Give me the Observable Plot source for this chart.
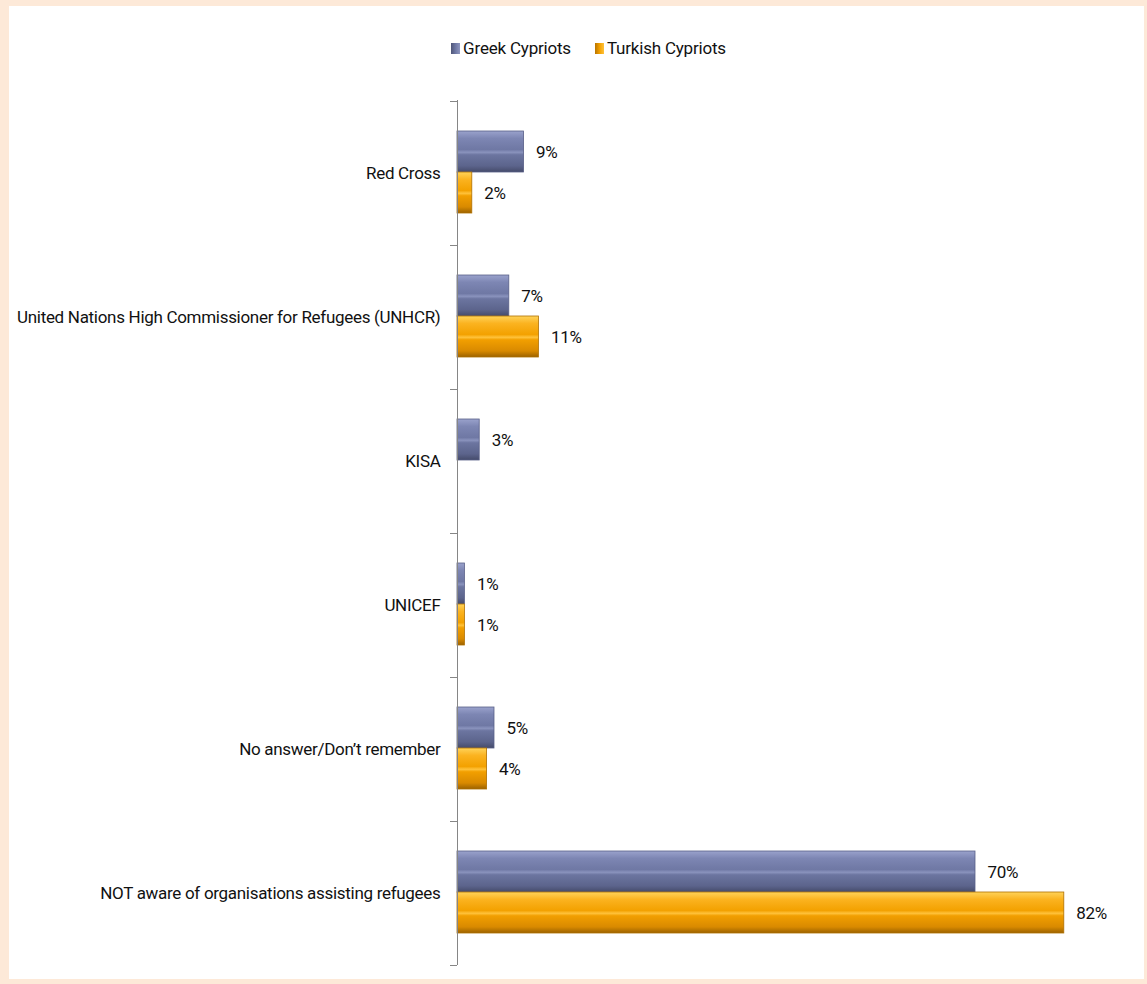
<!DOCTYPE html>
<html>
<head>
<meta charset="utf-8">
<script src="https://cdn.jsdelivr.net/npm/d3@7"></script>
<script src="https://cdn.jsdelivr.net/npm/@observablehq/plot@0.6"></script>
<style>
  html, body { margin: 0; padding: 0; }
  body { width: 1147px; height: 984px; background: #fde9d8; position: relative; overflow: hidden;
         font-family: Roboto, "DejaVu Sans Condensed", sans-serif; }
  #panel { position: absolute; left: 9px; top: 6px; width: 1135px; height: 973px; background: #fff; }
  #legend { position: absolute; top: 38px; left: 0; width: 1147px; display: flex; justify-content: center; gap: 24px;
            font-size: 17px; letter-spacing: -0.2px; color: #111; padding-left: 30px; box-sizing: border-box; }
  #legend .item { display: flex; align-items: center; gap: 3px; }
  #legend .sw { width: 9px; height: 11px; display: inline-block; }
  #chart { position: absolute; left: 0; top: 90px; }
  #chart svg text { letter-spacing: -0.3px; }
</style>
</head>
<body>
<div id="panel"></div>
<div id="legend"></div>
<div id="chart"></div>
<script>
const categories = [
  "Red Cross",
  "United Nations High Commissioner for Refugees (UNHCR)",
  "KISA",
  "UNICEF",
  "No answer/Don\u2019t remember",
  "NOT aware of organisations assisting refugees"
];
const series = ["Greek Cypriots", "Turkish Cypriots"];
const greekValues = [9, 7, 3, 1, 5, 70];
const turkishValues = [2, 11, null, 1, 4, 82];
const colors = ["#6e77a3", "#f2a000"];

const rows = [];
categories.forEach((c, i) => {
  rows.push({category: c, series: series[0], value: greekValues[i]});
  rows.push({category: c, series: series[1], value: turkishValues[i]});
});
const greek = rows.filter(d => d.series === series[0] && d.value != null);
const turkish = rows.filter(d => d.series === series[1] && d.value != null);

// legend
const legend = document.getElementById("legend");
series.forEach((s, i) => {
  const it = document.createElement("span");
  it.className = "item";
  it.innerHTML = `<span class="sw" style="background:linear-gradient(90deg, ${i ? "#b87400" : "#4f5678"}, ${colors[i]} 50%, ${i ? "#ffc23a" : "#8f97c0"})"></span><span>${s}</span>`;
  legend.appendChild(it);
});

// gradient defs as a render-function mark
const defs = () => {
  const ns = "http://www.w3.org/2000/svg";
  const g = document.createElementNS(ns, "defs");
  const grads = [
    ["gGreek", [["0%", "#9aa2cc"], ["18%", "#7d86b3"], ["45%", "#6f78a4"], ["52%", "#8a93bd"], ["58%", "#6c75a0"], ["85%", "#5c648c"], ["100%", "#454b6a"]]],
    ["gTurk", [["0%", "#ffd35a"], ["18%", "#fbb320"], ["45%", "#f3a100"], ["52%", "#ffc23a"], ["58%", "#f29f00"], ["85%", "#d98a00"], ["100%", "#9c6200"]]]
  ];
  for (const [id, stops] of grads) {
    const lg = document.createElementNS(ns, "linearGradient");
    lg.setAttribute("id", id);
    lg.setAttribute("x1", "0"); lg.setAttribute("y1", "0");
    lg.setAttribute("x2", "0"); lg.setAttribute("y2", "1");
    for (const [o, c] of stops) {
      const st = document.createElementNS(ns, "stop");
      st.setAttribute("offset", o);
      st.setAttribute("stop-color", c);
      lg.appendChild(st);
    }
    g.appendChild(lg);
  }
  return g;
};

// boundary ticks between categories, from the library's scales
const boundaryTicks = (index, scales) => {
  const ns = "http://www.w3.org/2000/svg";
  const g = document.createElementNS(ns, "g");
  const y = scales.y;
  const x0 = scales.x(0);
  const edges = y.domain().map(c => y(c));
  edges.push(y(y.domain()[y.domain().length - 1]) + y.bandwidth());
  for (const e of edges) {
    const l = document.createElementNS(ns, "line");
    l.setAttribute("x1", x0 - 7); l.setAttribute("x2", x0);
    l.setAttribute("y1", Math.round(e) + 0.5); l.setAttribute("y2", Math.round(e) + 0.5);
    l.setAttribute("stroke", "#868686");
    g.appendChild(l);
  }
  return g;
};

const plot = Plot.plot({
  width: 1147,
  height: 885,
  marginTop: 10,
  marginBottom: 10,
  marginLeft: 457,
  marginRight: 61,
  style: {fontFamily: 'Roboto, "DejaVu Sans Condensed", sans-serif', fontSize: "17px", color: "#111", background: "transparent", overflow: "visible"},
  x: {domain: [0, 85], axis: null},
  y: {domain: categories, padding: 0, label: null, tickSize: 0, tickPadding: 17},
  marks: [
    defs,
    Plot.barX(greek, {y: "category", x: "value", fill: "url(#gGreek)", stroke: "#596088", strokeWidth: 0.8, insetTop: 30, insetBottom: 73}),
    Plot.barX(turkish, {y: "category", x: "value", fill: "url(#gTurk)", stroke: "#b07000", strokeWidth: 0.8, insetTop: 71, insetBottom: 32}),
    Plot.text(greek, {y: "category", x: "value", text: d => d.value + "%", textAnchor: "start", dx: 12, dy: -21, fill: "#111", fontSize: 17}),
    Plot.text(turkish, {y: "category", x: "value", text: d => d.value + "%", textAnchor: "start", dx: 12, dy: 20, fill: "#111", fontSize: 17}),
    Plot.ruleX([0], {stroke: "#868686"}),
    boundaryTicks
  ]
});
document.getElementById("chart").appendChild(plot);
</script>
</body>
</html>
